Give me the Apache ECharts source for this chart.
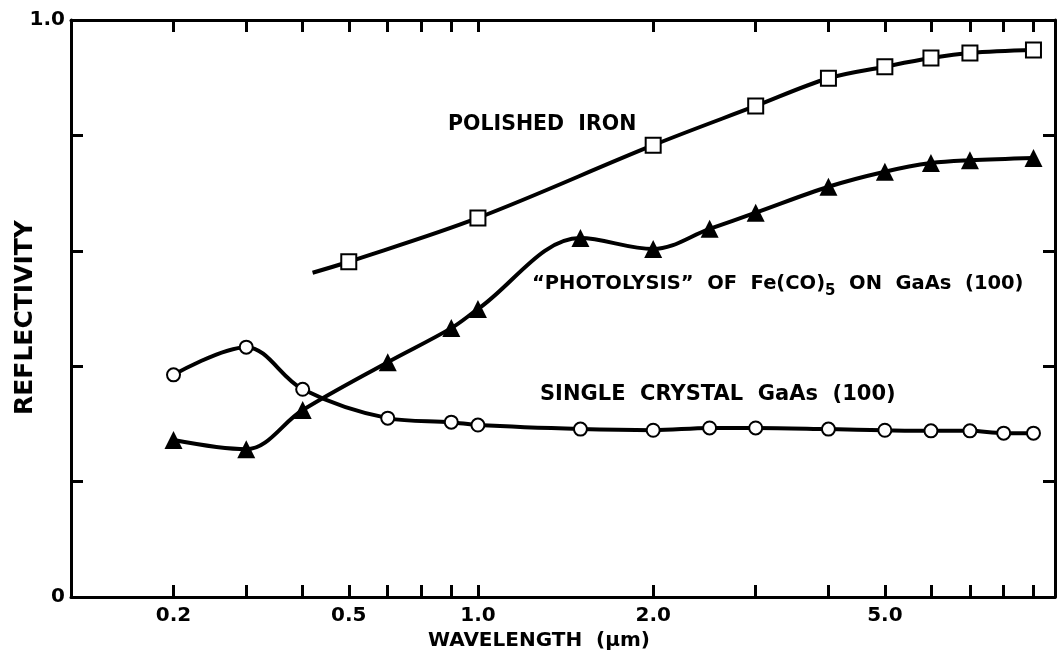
<!DOCTYPE html>
<html>
<head>
<meta charset="utf-8">
<script src="https://cdn.jsdelivr.net/npm/echarts@6/dist/echarts.min.js"></script>
<style>
  html, body { margin: 0; padding: 0; background: #fff; }
  #chart { width: 1058px; height: 658px; }
</style>
</head>
<body>
<div id="chart"></div>
<script>
// ---- data (wavelength in micrometres, reflectivity 0..1) ----
// The reference's tick marks form a log scale (0.3 ... 0.9, 1, 2 ... 9);
// its printed labels "0.2" and "0.5" sit under the 0.3 and 0.6 ticks.
const xTickValues = [0.3, 0.4, 0.5, 0.6, 0.7, 0.8, 0.9, 1, 2, 3, 4, 5, 6, 7, 8, 9];
const xLabelValues = [0.3, 0.6, 1, 2, 5];
const xLabelTexts = ['0.2', '0.5', '1.0', '2.0', '5.0'];
const yLabelValues = [0, 1];
const yLabelTexts = ['0', '1.0'];

// Single crystal GaAs (100) - open circles
const gaasWavelength = [0.3, 0.4, 0.5, 0.7, 0.9, 1.0, 1.5, 2.0, 2.5, 3, 4, 5, 6, 7, 8, 9];
const gaasReflectivity = [0.385, 0.433, 0.360, 0.310, 0.303, 0.298, 0.291, 0.289, 0.293, 0.293, 0.291, 0.289, 0.288, 0.288, 0.284, 0.284];

// "Photolysis" of Fe(CO)5 on GaAs (100) - filled triangles
const filmWavelength = [0.3, 0.4, 0.5, 0.7, 0.9, 1.0, 1.5, 2.0, 2.5, 3, 4, 5, 6, 7, 9];
const filmReflectivity = [0.272, 0.256, 0.324, 0.407, 0.466, 0.499, 0.622, 0.603, 0.638, 0.666, 0.711, 0.737, 0.752, 0.757, 0.761];

// Polished iron - open squares (curve starts a little before the first square)
const ironCurveStart = [0.52, 0.562];
const ironWavelength = [0.6, 1, 2, 3, 4, 5, 6, 7, 9];
const ironReflectivity = [0.581, 0.657, 0.783, 0.851, 0.899, 0.919, 0.934, 0.943, 0.948];

// ---- chart ----
const FONT = 'DejaVu Sans';
const zip = (xs, ys) => xs.map((x, i) => [x, ys[i]]);
const near = (a, b) => Math.abs(a - b) <= 1e-6 * Math.max(1, Math.abs(b));
const labelFor = (vals, texts) => v => {
  for (let i = 0; i < vals.length; i++) if (near(v, vals[i])) return texts[i];
  return '';
};

const axisLineStyle = { color: '#000', width: 3 };
const tickStyle = { show: true, inside: true, length: 12, lineStyle: { color: '#000', width: 3 } };
const labelStyle = { color: '#000', fontFamily: FONT, fontWeight: 'bold', fontSize: 20 };

const xCommon = {
  type: 'log', logBase: 10, min: 0.2, max: 9.8,
  axisLine: { show: true, onZero: false, lineStyle: axisLineStyle },
  axisTick: Object.assign({ customValues: xTickValues }, tickStyle),
  splitLine: { show: false },
  minorTick: { show: false }
};
const yCommon = {
  type: 'value', min: 0, max: 1, interval: 0.2,
  axisLine: { show: true, onZero: false, lineStyle: axisLineStyle },
  axisTick: Object.assign({ customValues: [0.2, 0.4, 0.6, 0.8] }, tickStyle),
  splitLine: { show: false }
};

const lineStyle = { color: '#000', width: 4 };

const option = {
  animation: false,
  backgroundColor: '#fff',
  grid: { left: 71, right: 3, top: 20, bottom: 61, containLabel: false, outerBoundsMode: 'none' },
  xAxis: [
    Object.assign({}, xCommon, {
      position: 'bottom',
      axisLabel: Object.assign({ customValues: xLabelValues, formatter: labelFor(xLabelValues, xLabelTexts), margin: 9 }, labelStyle),
      name: 'WAVELENGTH  (\u03bcm)', nameLocation: 'middle', nameGap: 31,
      nameTextStyle: { color: '#000', fontFamily: FONT, fontWeight: 'bold', fontSize: 20, padding: [0, 48, 0, 0] }
    }),
    Object.assign({}, xCommon, { position: 'top', axisLabel: { show: false } })
  ],
  yAxis: [
    Object.assign({}, yCommon, {
      position: 'left',
      axisLabel: Object.assign({ customValues: yLabelValues, formatter: labelFor(yLabelValues, yLabelTexts), margin: 6 }, labelStyle),
      name: 'REFLECTIVITY', nameLocation: 'middle', nameGap: 33, nameRotate: 90, nameMoveOverlap: false,
      nameTextStyle: { color: '#000', fontFamily: FONT, fontWeight: 'bold', fontSize: 25, padding: [0, 18, 0, 0] }
    }),
    Object.assign({}, yCommon, { position: 'right', axisLabel: { show: false } })
  ],
  series: [
    {
      name: 'Single crystal GaAs (100)', type: 'line', xAxisIndex: 0, yAxisIndex: 0,
      data: zip(gaasWavelength, gaasReflectivity),
      smooth: 0.35, symbol: 'emptyCircle', symbolSize: 13,
      lineStyle: lineStyle,
      itemStyle: { color: '#000', borderColor: '#000', borderWidth: 3 }
    },
    {
      name: '"Photolysis" of Fe(CO)5 on GaAs (100)', type: 'line', xAxisIndex: 0, yAxisIndex: 0,
      data: zip(filmWavelength, filmReflectivity),
      smooth: 0.35, symbol: 'triangle', symbolSize: 18,
      lineStyle: lineStyle,
      itemStyle: { color: '#000', borderColor: '#000', borderWidth: 0 }
    },
    {
      name: 'Polished iron', type: 'line', xAxisIndex: 0, yAxisIndex: 0,
      data: [{ value: ironCurveStart, symbol: 'none' }].concat(zip(ironWavelength, ironReflectivity)),
      smooth: 0.35, symbol: 'emptyRect', symbolSize: 15,
      lineStyle: lineStyle,
      itemStyle: { color: '#000', borderColor: '#000', borderWidth: 3 }
    }
  ],
  graphic: [
    {
      type: 'text', x: 448, y: 125, z: 100,
      style: { text: 'POLISHED  IRON', fill: '#000', font: 'bold 20.5px "DejaVu Sans"', verticalAlign: 'middle', align: 'left' }
    },
    {
      type: 'text', x: 532, y: 284, z: 100,
      style: {
        text: '{a|\u201cPHOTOLYSIS\u201d  OF  Fe(CO)}{s|5}{a|  ON  GaAs  (100)}',
        verticalAlign: 'middle', align: 'left',
        rich: {
          a: { fill: '#000', fontFamily: FONT, fontWeight: 'bold', fontSize: 19.5, lineHeight: 22 },
          s: { fill: '#000', fontFamily: FONT, fontWeight: 'bold', fontSize: 15, padding: [15, 0, 0, 0] }
        }
      }
    },
    {
      type: 'text', x: 540, y: 395, z: 100,
      style: { text: 'SINGLE  CRYSTAL  GaAs  (100)', fill: '#000', font: 'bold 21px "DejaVu Sans"', verticalAlign: 'middle', align: 'left' }
    }
  ]
};

const chart = echarts.init(document.getElementById('chart'), null, { renderer: 'canvas' });
chart.setOption(option);
</script>
</body>
</html>
